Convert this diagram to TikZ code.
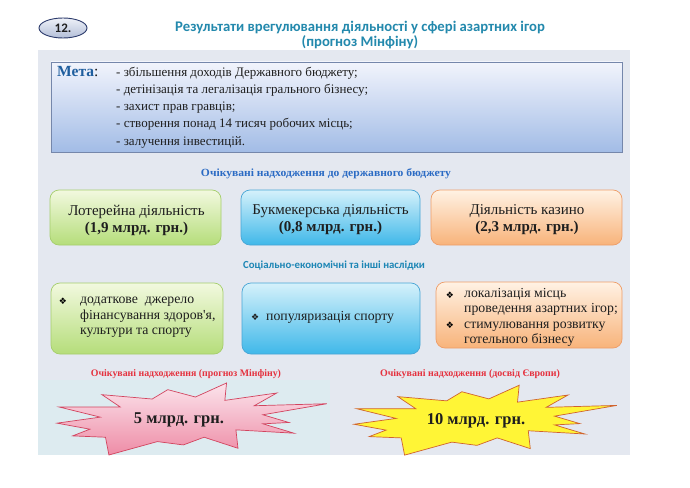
\documentclass[tikz,border=0pt]{standalone}
\usepackage{fontspec}
\usepackage{graphicx}
\usetikzlibrary{shapes.geometric}
\setmainfont{Liberation Serif}
\newfontfamily\plainserif[Ligatures=ResetAll]{Liberation Serif}
\newfontfamily\carl{Carlito}
\newfontfamily\dvs{DejaVu Sans}
\definecolor{panelbg}{HTML}{E4E8F0}
\definecolor{cyanbg}{HTML}{DDEBF0}
\definecolor{metaborder}{HTML}{7587AB}
\definecolor{metatop}{HTML}{F2F4FC}
\definecolor{metabot}{HTML}{A2BCE6}
\definecolor{metablue}{HTML}{1F5E9E}
\definecolor{titleblue}{HTML}{2389AD}
\definecolor{subone}{HTML}{2B6BC4}
\definecolor{subtwo}{HTML}{1D86B5}
\definecolor{gtop}{HTML}{F2F9DF}
\definecolor{gbot}{HTML}{B5DD7A}
\definecolor{gborder}{HTML}{A5CE6C}
\definecolor{btop}{HTML}{D5F1FB}
\definecolor{bbot}{HTML}{3FB8E9}
\definecolor{bborder}{HTML}{47A5D5}
\definecolor{otop}{HTML}{FFF2E4}
\definecolor{obot}{HTML}{F8B37A}
\definecolor{oborder}{HTML}{EE9D68}
\definecolor{redlabel}{HTML}{E5323F}
\definecolor{ovtop}{HTML}{EEF1F8}
\definecolor{ovbot}{HTML}{B3BFD8}
\definecolor{ovborder}{HTML}{2B3A6B}
\definecolor{ptop}{HTML}{FBE4EC}
\definecolor{pbot}{HTML}{EE8CA6}
\definecolor{pborder}{HTML}{D2445F}
\definecolor{yfill}{HTML}{FFF536}
\definecolor{yborder}{HTML}{D0622E}
\definecolor{darktext}{HTML}{1E1E1E}
\newcommand\bul{{\dvs\fontsize{9}{10}\selectfont ❖}}
\begin{document}
\begin{tikzpicture}[x=1pt,y=-1pt,
  box/.style={rounded corners=9pt, line width=0.7pt, inner sep=0pt},
  greenbox/.style={box, draw=gborder, top color=gtop, bottom color=gbot},
  bluebox/.style={box, draw=bborder, top color=btop, bottom color=bbot},
  orangebox/.style={box, draw=oborder, top color=otop, bottom color=obot},
  rowone/.style={align=center, font=\fontsize{15}{17}\selectfont, text=darktext},
  rowtwo/.style={align=left, font=\fontsize{13.8}{15.5}\selectfont, text=darktext, inner sep=0pt},
  metaitem/.style={anchor=base west, inner sep=0pt, font=\fontsize{13}{15}\selectfont, text=darktext},
  burstpink/.style={draw=pborder, line width=0.7pt, top color=ptop, bottom color=pbot},
  burstyellow/.style={draw=yborder, line width=0.7pt, fill=yfill},
  bursttext/.style={font=\bfseries\fontsize{16.5}{18}\selectfont, text=darktext},
  redlab/.style={text=redlabel, font=\bfseries\fontsize{10}{12}\selectfont, inner sep=0pt}
]
\useasboundingbox (0,0) rectangle (690,487);
\fill[white] (0,0) rectangle (690,487);
\fill[panelbg] (38,50) rectangle (630,455);
\fill[cyanbg] (38,380) rectangle (330,455);

% number oval and title
\node[ellipse, draw=ovborder, line width=0.9pt, top color=ovtop, bottom color=ovbot,
      minimum width=48pt, minimum height=20pt, inner sep=0pt,
      font=\carl\bfseries\fontsize{13}{14}\selectfont, text=darktext] (num) at (63,28) {12.};
\node[align=center, text=titleblue, font=\carl\bfseries\fontsize{14.7}{14.5}\selectfont] (title) at (360,35)
  {Результати врегулювання діяльності у сфері азартних ігор\\(прогноз Мінфіну)};

% Meta box
\node[draw=metaborder, line width=0.8pt, top color=metatop, bottom color=metabot,
      minimum width=571pt, minimum height=90pt, inner sep=0pt] (meta) at (336.5,107) {};
\node[anchor=base west, inner sep=0pt, font=\fontsize{15.5}{16}\selectfont] (metalabel) at (57,76.5)
  {\textcolor{metablue}{\bfseries Мета}\textcolor{darktext}{:}};
\node[metaitem] (m1) at (116,76) {- збільшення доходів Державного бюджету;};
\node[metaitem] (m2) at (116,93) {- детінізація та легалізація грального бізнесу;};
\node[metaitem] (m3) at (116,110) {- захист прав гравців;};
\node[metaitem] (m4) at (116,127) {- створення понад 14 тисяч робочих місць;};
\node[metaitem] (m5) at (116,145) {- залучення інвестицій.};

% subtitle 1
\node[text=subone, inner sep=0pt, font=\bfseries\fontsize{11}{12}\selectfont] (subA) at (326,174)
  {\resizebox{250pt}{\height}{Очікувані надходження до державного бюджету}};

% row 1
\node[greenbox, minimum width=171pt, minimum height=55pt] (g1) at (135.5,217.5) {};
\node[bluebox, minimum width=179pt, minimum height=55pt] (b1) at (330.5,217.5) {};
\node[orangebox, minimum width=191pt, minimum height=55pt] (o1) at (526.5,217.5) {};
\node[rowone] (g1t) at (136.5,220) {Лотерейна діяльність\\\textbf{(1,9 млрд. грн.)}};
\node[rowone] (b1t) at (330.5,220) {Букмекерська діяльність\\\textbf{(0,8 млрд. грн.)}};
\node[rowone] (o1t) at (527,220) {Діяльність казино\\\textbf{(2,3 млрд. грн.)}};

% subtitle 2
\node[text=subtwo, inner sep=0pt, font=\carl\bfseries\fontsize{10.8}{12}\selectfont] (subB) at (334,266)
  {Соціально-економічні та інші наслідки};

% row 2
\node[greenbox, minimum width=172pt, minimum height=71pt] (g2) at (137,318.5) {};
\node[bluebox, minimum width=178pt, minimum height=71pt] (b2) at (331,318.5) {};
\node[orangebox, minimum width=186pt, minimum height=66pt] (o2) at (529,315) {};
\node[inner sep=0pt] (g2b) at (63,301) {\bul};
\node[rowtwo, anchor=west] (g2t) at (80,317.5) {додаткове\ \ джерело\\фінансування здоров{\plainserif '}я,\\культури та спорту};
\node[rowtwo, anchor=west] (b2t) at (251,317) {\bul\ \ популяризація спорту};
\node[inner sep=0pt] (o2b1) at (450,295) {\bul};
\node[inner sep=0pt] (o2b2) at (450,325.5) {\bul};
\node[rowtwo, anchor=west, font=\fontsize{13.8}{15.2}\selectfont] (o2t) at (464,317.5)
  {локалізація місць\\проведення азартних ігор;\\стимулювання розвитку\\готельного бізнесу};

% red labels
\node[redlab] (rA) at (186,374) {\resizebox{190pt}{\height}{Очікувані надходження (прогноз Мінфіну)}};
\node[redlab] (rB) at (470,374) {\resizebox{180pt}{\height}{Очікувані надходження (досвід Європи)}};

% bursts
\begin{scope}[shift={(38,379.6)}, xscale=0.346, yscale=0.335]
\draw[burstpink] (185,45) -- (330,58) -- (375,30) -- (455,52) -- (545,10) -- (540,62) -- (690,40) -- (625,78) -- (835,72) -- (650,105) -- (725,128) -- (650,132) -- (740,160) -- (572,150) -- (578,205) -- (480,172) -- (420,195) -- (345,185) -- (205,225) -- (195,172) -- (100,168) -- (150,148) -- (55,130) -- (180,112) -- (62,82) -- (238,82) -- cycle;
\end{scope}
\begin{scope}[shift={(335.5,382)}, xscale=0.337, yscale=0.325]
\draw[burstyellow] (185,45) -- (330,58) -- (375,30) -- (455,52) -- (545,10) -- (540,62) -- (690,40) -- (625,78) -- (835,72) -- (650,105) -- (725,128) -- (650,132) -- (740,160) -- (572,150) -- (578,205) -- (480,172) -- (420,195) -- (345,185) -- (205,225) -- (195,172) -- (100,168) -- (150,148) -- (55,130) -- (180,112) -- (62,82) -- (238,82) -- cycle;
\end{scope}
\node[bursttext] (pinkt) at (179,420) {5 млрд. грн.};
\node[bursttext] (yelt) at (476,421) {10 млрд. грн.};
\end{tikzpicture}
\end{document}
